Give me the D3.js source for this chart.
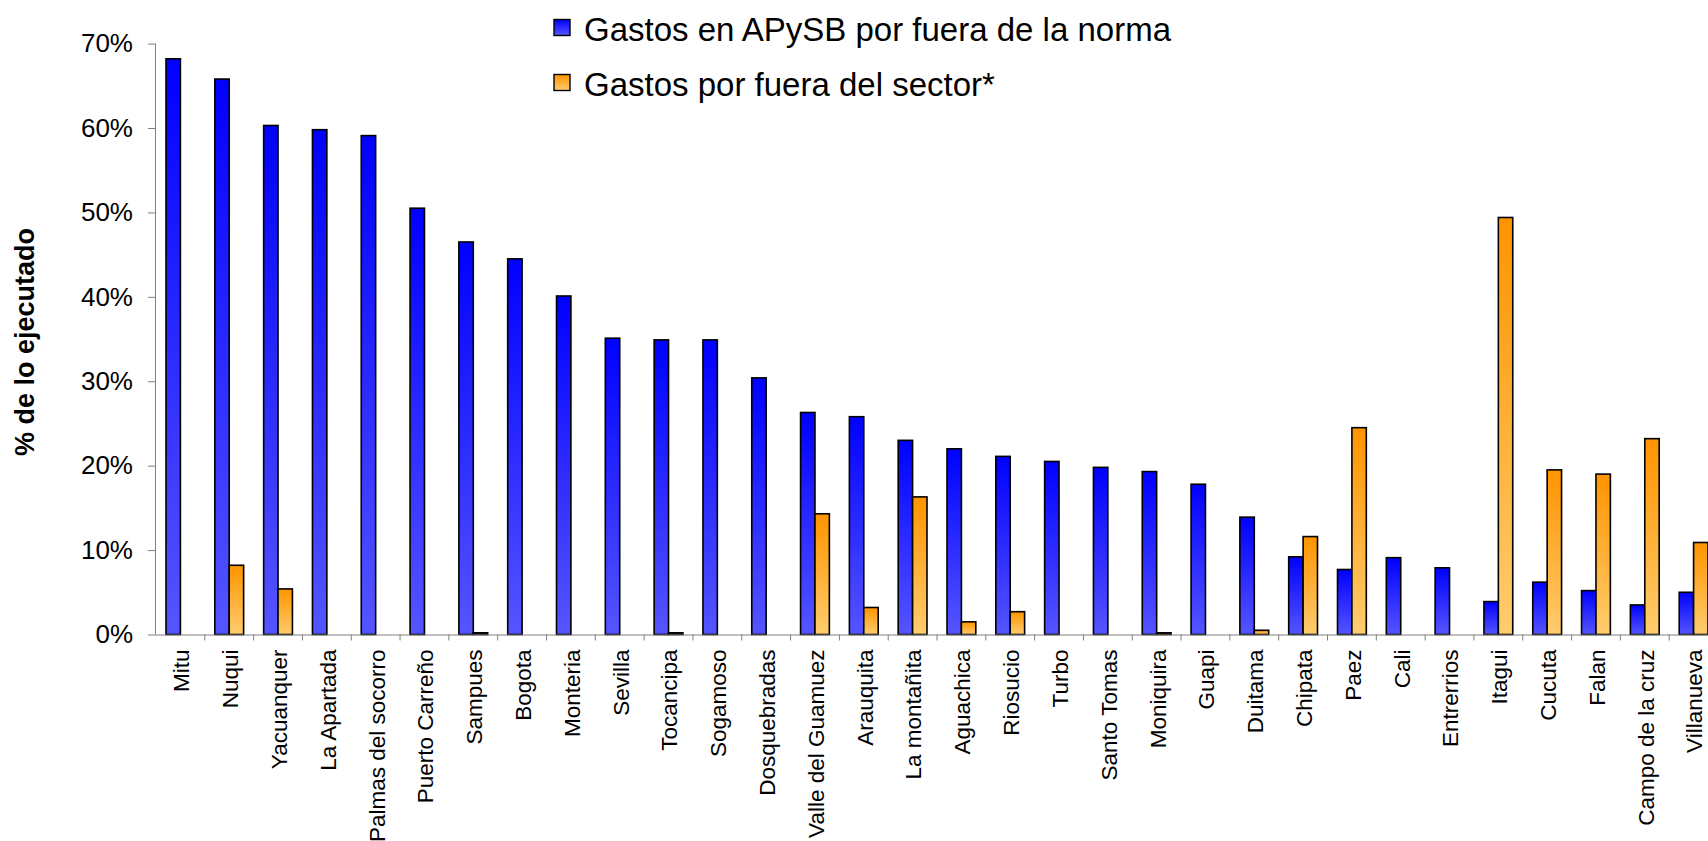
<!DOCTYPE html>
<html>
<head>
<meta charset="utf-8">
<script src="https://cdn.jsdelivr.net/npm/d3@7"></script>
<style>
  html, body { margin: 0; padding: 0; background: #fff; overflow: hidden; }
  svg { display: block; font-family: "Liberation Sans", Arial, sans-serif; }
</style>
</head>
<body>
<div id="chart"></div>
<script>
// municipalities, in the order of the chart
const categories = [
  'Mitu', 'Nuqui', 'Yacuanquer', 'La Apartada', 'Palmas del socorro',
  'Puerto Carreño', 'Sampues', 'Bogota', 'Monteria', 'Sevilla',
  'Tocancipa', 'Sogamoso', 'Dosquebradas', 'Valle del Guamuez', 'Arauquita',
  'La montañita', 'Aguachica', 'Riosucio', 'Turbo', 'Santo Tomas',
  'Moniquira', 'Guapi', 'Duitama', 'Chipata', 'Paez',
  'Cali', 'Entrerrios', 'Itagui', 'Cucuta', 'Falan',
  'Campo de la cruz', 'Villanueva'
];

// % de lo ejecutado (fractions)
const gastosNorma = [
  0.682, 0.658, 0.603, 0.598, 0.591,
  0.505, 0.465, 0.445, 0.401, 0.351,
  0.349, 0.349, 0.304, 0.263, 0.258,
  0.230, 0.220, 0.211, 0.205, 0.198,
  0.193, 0.178, 0.139, 0.092, 0.077,
  0.091, 0.079, 0.039, 0.062, 0.052,
  0.035, 0.050
];
const gastosSector = [
  0, 0.082, 0.054, 0, 0,
  0, 0.002, 0, 0, 0,
  0.002, 0, 0, 0.143, 0.032,
  0.163, 0.015, 0.027, 0, 0,
  0.002, 0, 0.005, 0.116, 0.245,
  0, 0, 0.494, 0.195, 0.190,
  0.232, 0.109
];

const seriesNames = ['Gastos en APySB por fuera de la norma', 'Gastos por fuera del sector*'];
const yTicks = [0, 0.1, 0.2, 0.3, 0.4, 0.5, 0.6, 0.7];

const width = 1708;
const height = 841;
const plotLeft = 156;
const plotRight = 1718; // the plot runs past the right edge of the picture
const plotTop = 43.6;
const plotBottom = 634.5;

const svg = d3.select('#chart')
  .append('svg')
  .attr('width', width)
  .attr('height', height);

// gradients: dark on top, light at the bottom of each bar
const defs = svg.append('defs');
const gradients = [
  { id: 'gradBlue', top: '#0000ff', bottom: '#5555ff' },
  { id: 'gradOrange', top: '#ff9400', bottom: '#ffcc6e' }
];
gradients.forEach(g => {
  const lg = defs.append('linearGradient')
    .attr('id', g.id)
    .attr('x1', 0).attr('y1', 0)
    .attr('x2', 0).attr('y2', 1);
  lg.append('stop').attr('offset', '0%').attr('stop-color', g.top);
  lg.append('stop').attr('offset', '100%').attr('stop-color', g.bottom);
});
const fills = ['url(#gradBlue)', 'url(#gradOrange)'];

// scales
const x0 = d3.scaleBand()
  .domain(categories)
  .range([plotLeft, plotRight])
  .paddingInner(0)
  .paddingOuter(0);

const bw = x0.bandwidth();
const x1 = d3.scaleBand()
  .domain([0, 1])
  .range([bw * 0.205, bw * 0.795]);

const y = d3.scaleLinear()
  .domain([0, 0.7])
  .range([plotBottom, plotTop]);

// bars
const rows = categories.map((c, i) => ({ cat: c, vals: [gastosNorma[i], gastosSector[i]] }));

const groups = svg.append('g')
  .selectAll('g')
  .data(rows)
  .enter()
  .append('g')
  .attr('transform', d => `translate(${x0(d.cat)},0)`);

groups.selectAll('rect')
  .data(d => d.vals.map((v, k) => ({ v, k })).filter(e => e.v > 0))
  .enter()
  .append('rect')
  .attr('x', d => x1(d.k))
  .attr('width', x1.bandwidth())
  .attr('y', d => y(d.v))
  .attr('height', d => y(0) - y(d.v))
  .attr('fill', d => fills[d.k])
  .attr('stroke', '#000')
  .attr('stroke-width', 1.6);

// y axis
const yAxis = svg.append('g')
  .attr('transform', `translate(${plotLeft},0)`)
  .call(d3.axisLeft(y)
    .tickValues(yTicks)
    .tickFormat(d3.format('.0%'))
    .tickSize(8)
    .tickPadding(15));
yAxis.select('.domain').attr('stroke', '#808080').attr('d', `M-0.5,${plotBottom}V${plotTop}`);
yAxis.selectAll('.tick line').attr('stroke', '#808080');
yAxis.selectAll('.tick text')
  .attr('fill', '#000')
  .style('font-size', '26px')
  .style('font-family', '"Liberation Sans", Arial, sans-serif');

// x axis: ticks between the categories
const xAxis = svg.append('g')
  .attr('transform', `translate(0,${plotBottom})`);
xAxis.append('line')
  .attr('x1', plotLeft).attr('x2', plotRight)
  .attr('y1', 0.5).attr('y2', 0.5)
  .attr('stroke', '#808080');
xAxis.selectAll('.xtick')
  .data(categories)
  .enter()
  .append('line')
  .attr('class', 'xtick')
  .attr('x1', d => x0(d) + bw).attr('x2', d => x0(d) + bw)
  .attr('y1', 0).attr('y2', 6)
  .attr('stroke', '#808080');

// category labels, rotated
xAxis.selectAll('.xlabel')
  .data(categories)
  .enter()
  .append('text')
  .attr('class', 'xlabel')
  .attr('transform', d => `translate(${x0(d) + bw / 2 + 1},15) rotate(-90)`)
  .attr('text-anchor', 'end')
  .attr('dy', '0.35em')
  .style('font-size', '22.5px')
  .text(d => d);

// y title
svg.append('text')
  .attr('transform', 'translate(34,342) rotate(-90)')
  .attr('text-anchor', 'middle')
  .style('font-size', '27px')
  .style('font-weight', 'bold')
  .text('% de lo ejecutado');

// legend
const legend = svg.append('g')
  .attr('transform', 'translate(554,2)');
const legendItems = legend.selectAll('g')
  .data(seriesNames)
  .enter()
  .append('g')
  .attr('transform', (d, i) => `translate(0,${i * 55})`);
legendItems.append('rect')
  .attr('x', 0).attr('y', 17.5)
  .attr('width', 16).attr('height', 16)
  .attr('fill', (d, i) => fills[i])
  .attr('stroke', '#000')
  .attr('stroke-width', 1.4);
legendItems.append('text')
  .attr('x', 30).attr('y', 38.5)
  .style('font-size', '33px')
  .text(d => d);
</script>
</body>
</html>
